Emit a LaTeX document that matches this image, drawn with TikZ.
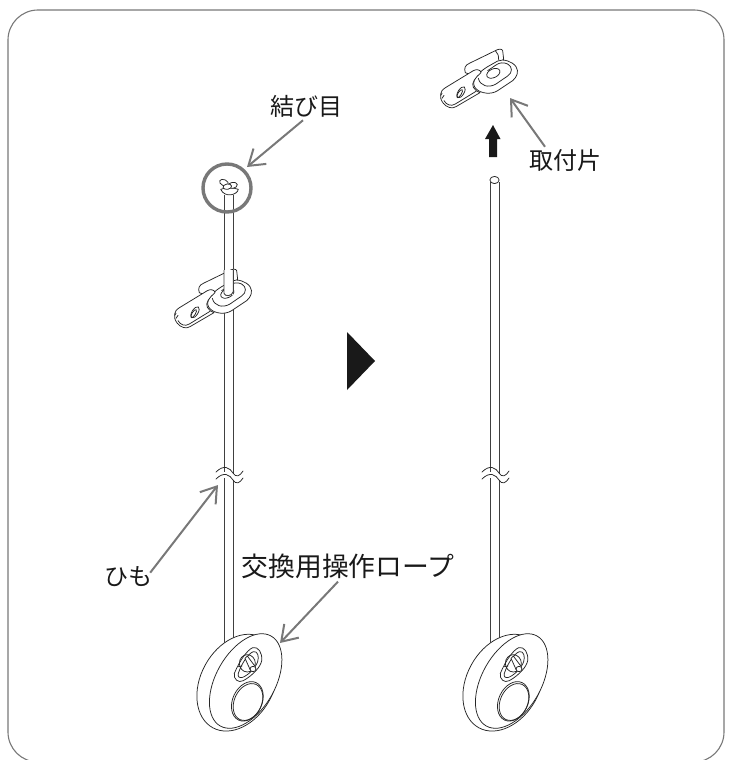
\documentclass[tikz,border=0pt]{standalone}
\usepackage{fontspec}
\setmainfont{Noto Sans CJK JP}
\usetikzlibrary{arrows.meta}
\definecolor{callout}{gray}{0.47}
\tikzset{
  ink/.style={draw=black!85,line width=0.75pt,line join=round,line cap=round},
  inkfill/.style={ink,fill=white},
  rope/.style={draw=black!75,line width=0.9pt},
  callarrow/.style={draw=callout,line width=2pt,-{Straight Barb[length=15pt,width=20pt,line width=2pt]}},
  lbl/.style={font=\fontsize{24pt}{26pt}\selectfont,text=black!90,inner sep=0pt},
  lblwide/.style={font=\fontsize{26.8pt}{28pt}\selectfont,text=black!90,inner sep=0pt},
}
\newcommand{\tabback}{%
  \path[inkfill] (148,428) .. controls (143,415) and (148,405) .. (160,400) -- (238,362) .. controls (248,356) and (258,356) .. (260,362) -- (263,388) -- (250,400) -- (180,440) -- cycle;
  \path[ink] (238,362) .. controls (246,368) and (248,378) .. (248,390);
}
\newcommand{\tabfront}{%
  \path[inkfill] (175,450) .. controls (180,440) and (190,425) .. (215,410) -- (245,393) .. controls (262,385) and (290,395) .. (300,410) .. controls (310,425) and (302,442) .. (290,452) -- (245,482) .. controls (225,495) and (195,490) .. (182,478) .. controls (172,470) and (172,460) .. (175,450) -- cycle;
  \path[ink] (187,445) .. controls (192,468) and (218,475) .. (240,462) -- (275,438) .. controls (290,428) and (290,410) .. (275,402) .. controls (262,396) and (250,398) .. (240,405) -- (215,422);
  \path[inkfill] (74,492) .. controls (74,485) and (80,478) .. (90,472) -- (172,422) .. controls (182,416) and (195,420) .. (195,428) .. controls (178,442) and (165,460) .. (172,472) .. controls (176,482) and (185,484) .. (192,488) -- (120,530) .. controls (108,538) and (92,532) .. (82,520) .. controls (74,510) and (72,500) .. (74,492) -- cycle;
  \path[ink] (74,496) -- (78,490) (78,505) -- (84,496);
  \path[ink] (84,512) .. controls (92,525) and (105,530) .. (118,522) -- (180,484);
  \draw[ink] (135,487) ellipse [x radius=19,y radius=9,rotate=58];
  \draw[ink] (131,491) ellipse [x radius=14,y radius=5,rotate=58];
  \draw[ink] (232,430) ellipse [x radius=21,y radius=13,rotate=25];
}
\newcommand{\discpiece}{%
  \draw[inkfill] (142,188) ellipse [x radius=154,y radius=110,rotate=61.5];
  \draw[inkfill] (167,183) ellipse [x radius=155,y radius=89,rotate=60.5];
  \path[inkfill] (133,160) .. controls (150,120) and (172,90) .. (188,83) .. controls (205,78) and (218,100) .. (215,122) .. controls (212,140) and (190,165) .. (160,182) .. controls (145,190) and (130,178) .. (133,160) -- cycle;
  \path[ink] (145,160) .. controls (155,130) and (175,100) .. (190,95) .. controls (203,92) and (208,110) .. (203,125) .. controls (196,145) and (175,165) .. (158,172) .. controls (148,175) and (142,170) .. (145,160) -- cycle;
  \draw[ink] (172,130) ellipse [x radius=24,y radius=26];
  \path[inkfill] (165,115) -- (172,108) -- (196,140) .. controls (198,152) and (184,156) .. (180,148) -- cycle;
  \draw[inkfill] (189,147) ellipse [x radius=9,y radius=8];
  \path[ink] (145,140) -- (156,138);
  \draw[inkfill] (172,244) ellipse [x radius=62,y radius=44,rotate=65];
  \draw[ink] (174,246) ellipse [x radius=58,y radius=41,rotate=65];
}
\begin{document}
\begin{tikzpicture}[x=1pt,y=-1pt]
\useasboundingbox (0,0) rectangle (732,760);
\draw[draw=callout,line width=1.1pt,rounded corners=30pt] (8,10) rectangle (724,762);

% left rope
\draw[rope] (224,196) -- (224,472) (224,478) -- (224,655);
\draw[rope] (233,196) -- (233,473) (233,480) -- (233,655);
% right rope
\draw[rope] (490,182) -- (490,472) (490,478) -- (490,655);
\draw[rope] (499,182) -- (499,473) (499,480) -- (499,655);
\draw[ink,fill=white] (494.5,180) ellipse [x radius=4.6,y radius=3.6];

% wave breaks
\draw[ink] (216,472) .. controls (224,464) and (230,468) .. (233,473) .. controls (236,478) and (240,476) .. (243,471);
\draw[ink] (216,479) .. controls (224,471) and (230,475) .. (233,480) .. controls (236,485) and (240,483) .. (243,478);
\draw[ink] (482,472) .. controls (490,464) and (496,468) .. (499,473) .. controls (502,478) and (506,476) .. (509,471);
\draw[ink] (482,479) .. controls (490,471) and (496,475) .. (499,480) .. controls (502,485) and (506,483) .. (509,478);

% left tab on rope
\begin{scope}[shift={(150,150)},scale=1/3]
  \tabback
  \tabfront
  \fill[white] (223,360) rectangle (250,434);
  \draw[rope] (222,360) -- (222,430) .. controls (224,440) and (246,440) .. (250,425) -- (250,360);
  % knot
  \path[inkfill] (212,118) .. controls (225,112) and (250,112) .. (265,118) .. controls (262,135) and (225,145) .. (212,118) -- cycle;
  \draw[inkfill] (222,98) ellipse [x radius=14,y radius=9,rotate=-25];
  \draw[inkfill] (248,106) ellipse [x radius=14,y radius=9,rotate=10];
  \draw[inkfill] (232,110) ellipse [x radius=13,y radius=8,rotate=10];
  \draw[rope] (222,135) -- (222,145) (250,135) -- (250,145);
\end{scope}
\draw[draw=callout,line width=3.4pt] (227,188) circle [radius=24];

% right tab
\begin{scope}[shift={(416,-70)},scale=1/3]
  \tabback
  \tabfront
\end{scope}

% discs
\begin{scope}[shift={(190,620)},scale=1/3]
  \discpiece
\end{scope}
\begin{scope}[shift={(456,620)},scale=1/3]
  \discpiece
\end{scope}

% middle triangle and up arrow
\fill[black!90] (347,332) -- (375,361) -- (347,390) -- cycle;
\fill[black!90] (493,125) -- (500.5,139) -- (497,139) -- (497,157) -- (489,157) -- (489,139) -- (485,139) -- cycle;

% labels
\node[lbl,anchor=center] (knotlabel) at (306,106) {結び目};
\node[lbl,anchor=center] (tablabel) at (565,160) {取付片};
\node[lbl,anchor=center] (cordlabel) at (128,577) {ひも};
\node[lblwide,anchor=center] (ropelabel) at (348,566) {交換用操作ロープ};

% callouts
\coordinate (knottip) at (247,167);
\coordinate (tabtip) at (510,98);
\coordinate (cordtip) at (218,485);
\coordinate (ropetip) at (280,643);
\draw[callarrow] (knotlabel.south) ++(-3,3) -- (knottip);
\draw[callarrow] (tablabel.north) ++(-20,-2) -- (tabtip);
\draw[callarrow] (cordlabel.north east) ++(-2,6) -- (cordtip);
\draw[callarrow] (ropelabel.south) ++(-10,3) -- (ropetip);
\end{tikzpicture}
\end{document}
